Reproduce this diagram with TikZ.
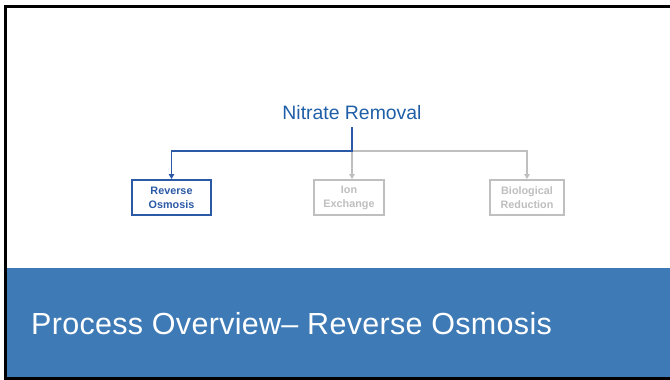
\documentclass[tikz,border=0pt]{standalone}
\usepackage{fontspec}
\setmainfont{Liberation Sans}
\usetikzlibrary{arrows.meta,positioning}
\definecolor{navy}{HTML}{2B59A6}
\definecolor{head}{HTML}{1F5FA8}
\definecolor{band}{HTML}{3D7AB6}
\definecolor{mute}{HTML}{BFBFBF}
\tikzset{
  optbox/.style={draw,line width=2pt,align=center,font=\bfseries\fontsize{10.8}{14}\selectfont,minimum height=35pt,inner sep=2pt},
  pickbox/.style={optbox,draw=navy,text=navy},
  idlebox/.style={optbox,draw=mute,text=mute},
  link/.style={line width=1.6pt,-{Triangle[length=5pt,width=5.5pt]}},
}
\begin{document}
\begin{tikzpicture}[x=1pt,y=-1pt]
  \useasboundingbox (0,0) rectangle (670,380);
  \fill[white] (0,0) rectangle (670,380);
  \fill[band] (5,267.5) rectangle (670,378.5);
  \draw[black,line width=2.5pt] (670,6.3) -- (5.3,6.3) -- (5.3,378.7) -- (670,378.7);
  \node[anchor=base,inner sep=0pt,outer ysep=8pt,text=head,font=\fontsize{19.4}{23}\selectfont] (nitrate) at (352,119) {Nitrate Removal};
  \coordinate (split) at (352,151);
  \node[pickbox,minimum width=79pt] (ro) at (171.5,197.5) {Reverse\\Osmosis};
  \node[idlebox,minimum width=70pt] (ix) at (349,197.5) {Ion\\Exchange};
  \node[idlebox,minimum width=74pt] (bio) at (527,197.5) {Biological\\Reduction};
  \draw[link,mute] (split) -- (split |- ix.north);
  \draw[link,mute] (split) -| (bio.north);
  \draw[link,navy] (nitrate.south) -- (split) -| (ro.north);
  \node[anchor=base west,inner sep=0pt,text=white,font=\fontsize{30.5}{36}\selectfont\addfontfeatures{LetterSpace=1}] (slide) at (31,334.5) {Process Overview– Reverse Osmosis};
\end{tikzpicture}
\end{document}
